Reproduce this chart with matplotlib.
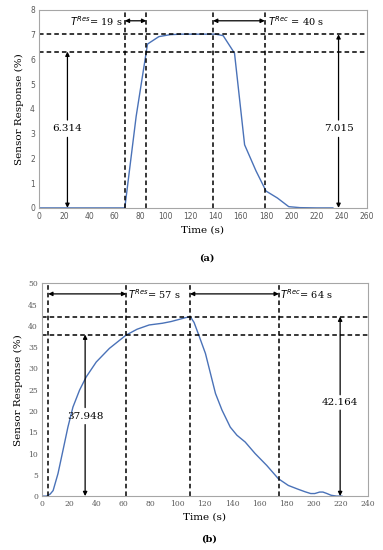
import matplotlib.pyplot as plt

# panel (a) data
time_a = [0, 20, 40, 60, 68, 77, 86, 95, 104, 113, 122, 131, 140, 146, 155, 163, 172, 180, 189, 198, 207, 220, 233]
resp_a = [0, 0, 0, 0, 0, 3.7, 6.62, 6.92, 7.0, 7.02, 7.02, 7.02, 7.02, 6.96, 6.25, 2.55, 1.5, 0.68, 0.4, 0.05, 0.01, 0, 0]
vlines_a = [68, 85, 138, 179]
hlines_a = [7.015, 6.314]

# panel (b) data
time_b = [0, 3, 4.4, 6, 8.1, 11.7, 15.4, 19, 22.7, 27.6, 32.5, 39.9, 49.6, 61.8, 70, 78.9, 88.6, 95, 100.9,
          105.5, 109.2, 112, 115.5, 120.4, 124.1, 127.8, 132.6, 138.7, 143.6, 149.7, 157, 165.6, 174.1, 181.5,
          188.8, 194, 198, 201, 204.6, 207, 210, 213, 217, 221]
resp_b = [0, 0, 0.15, 0.5, 1.3, 5.3, 10.8, 16.2, 20.9, 24.9, 28, 31.5, 34.7, 37.8, 39.2, 40.2, 40.6, 41.0, 41.5,
          41.9, 42.16, 40.8, 37.8, 33.5, 28.8, 24.1, 20.2, 16.2, 14.3, 12.7, 10.0, 7.2, 4.1, 2.5,
          1.6, 1.0, 0.6, 0.6, 0.95, 0.95, 0.6, 0.2, 0, 0]
vlines_b = [4.5, 62, 109, 174.5]
hlines_b = [42.164, 37.948]

blue = '#4a72b8'
serif = 'DejaVu Serif'

fig = plt.figure(figsize=(3.83, 5.5), dpi=100)
ax1 = fig.add_axes([0.102, 0.622, 0.856, 0.36])
ax2 = fig.add_axes([0.110, 0.098, 0.850, 0.387])


def style(ax, fam):
    for s in ax.spines.values():
        s.set_color('#a6a6a6')
        s.set_linewidth(0.8)
    ax.tick_params(length=0, labelsize=5.5, labelcolor='#595959', pad=3)
    for lab in ax.get_xticklabels() + ax.get_yticklabels():
        lab.set_family(fam)
    ax.set_xlabel('Time (s)', family=serif, fontsize=7.5, labelpad=3)
    ax.set_ylabel('Sensor Response (%)', family=serif, fontsize=7.5, labelpad=4)


def dash(ax, vl, hl):
    for v in vl:
        ax.axvline(v, color='black', ls=(0, (3, 2)), lw=1.1)
    for h in hl:
        ax.axhline(h, color='black', ls=(0, (3, 2)), lw=1.1)


def darrow(ax, x0, x1, y):
    ax.annotate('', xy=(x1, y), xytext=(x0, y),
                arrowprops=dict(arrowstyle='<|-|>', color='black', lw=0.9,
                                mutation_scale=6, shrinkA=0, shrinkB=0))


def varrow(ax, x, y_text, top, gap, label):
    ax.annotate('', xy=(x, top), xytext=(x, y_text + gap),
                arrowprops=dict(arrowstyle='-|>', color='black', lw=0.9,
                                mutation_scale=6, shrinkA=0, shrinkB=0))
    ax.annotate('', xy=(x, 0), xytext=(x, y_text - gap),
                arrowprops=dict(arrowstyle='-|>', color='black', lw=0.9,
                                mutation_scale=6, shrinkA=0, shrinkB=0))
    ax.text(x, y_text, label, family=serif, fontsize=7.5, ha='center', va='center')


# panel (a)
ax1.plot(time_a, resp_a, color=blue, lw=1.0)
dash(ax1, vlines_a, hlines_a)
ax1.set_xlim(0, 260)
ax1.set_ylim(0, 8)
ax1.set_xticks(range(0, 261, 20))
ax1.set_yticks(range(0, 9))
style(ax1, 'DejaVu Sans')
darrow(ax1, vlines_a[0], vlines_a[1], 7.56)
darrow(ax1, vlines_a[2], vlines_a[3], 7.56)
ax1.text(vlines_a[0] - 1.5, 7.56, r'$T^{Res}$= 19 s', family=serif, fontsize=7, ha='right', va='center')
ax1.text(vlines_a[3] + 2.5, 7.56, r'$T^{Rec}$ = 40 s', family=serif, fontsize=7, ha='left', va='center')
varrow(ax1, 22.5, 3.2, hlines_a[1], 0.35, '6.314')
varrow(ax1, 237.5, 3.2, hlines_a[0], 0.35, '7.015')
fig.text(0.5 * (0.102 + 0.958) + 0.01, 1 - 258 / 550, '(a)', family=serif, fontsize=7,
         fontweight='bold', ha='center', va='center')

# panel (b)
ax2.plot(time_b, resp_b, color=blue, lw=1.0)
dash(ax2, vlines_b, hlines_b)
ax2.set_xlim(0, 240)
ax2.set_ylim(0, 50)
ax2.set_xticks(range(0, 241, 20))
ax2.set_yticks(range(0, 51, 5))
style(ax2, serif)
darrow(ax2, vlines_b[0], vlines_b[1], 47.5)
darrow(ax2, vlines_b[2], vlines_b[3], 47.5)
ax2.text(vlines_b[1] + 1, 47.5, r'$T^{Res}$= 57 s', family=serif, fontsize=7, ha='left', va='center')
ax2.text(vlines_b[3] + 1, 47.5, r'$T^{Rec}$= 64 s', family=serif, fontsize=7, ha='left', va='center')
varrow(ax2, 31.7, 18.8, hlines_b[1], 2.0, '37.948')
varrow(ax2, 219.7, 22.0, hlines_b[0], 1.8, '42.164')
fig.text(0.5 * (0.110 + 0.960) + 0.01, 1 - 539 / 550, '(b)', family=serif, fontsize=7,
         fontweight='bold', ha='center', va='center')

fig.savefig('out.png', dpi=100)
